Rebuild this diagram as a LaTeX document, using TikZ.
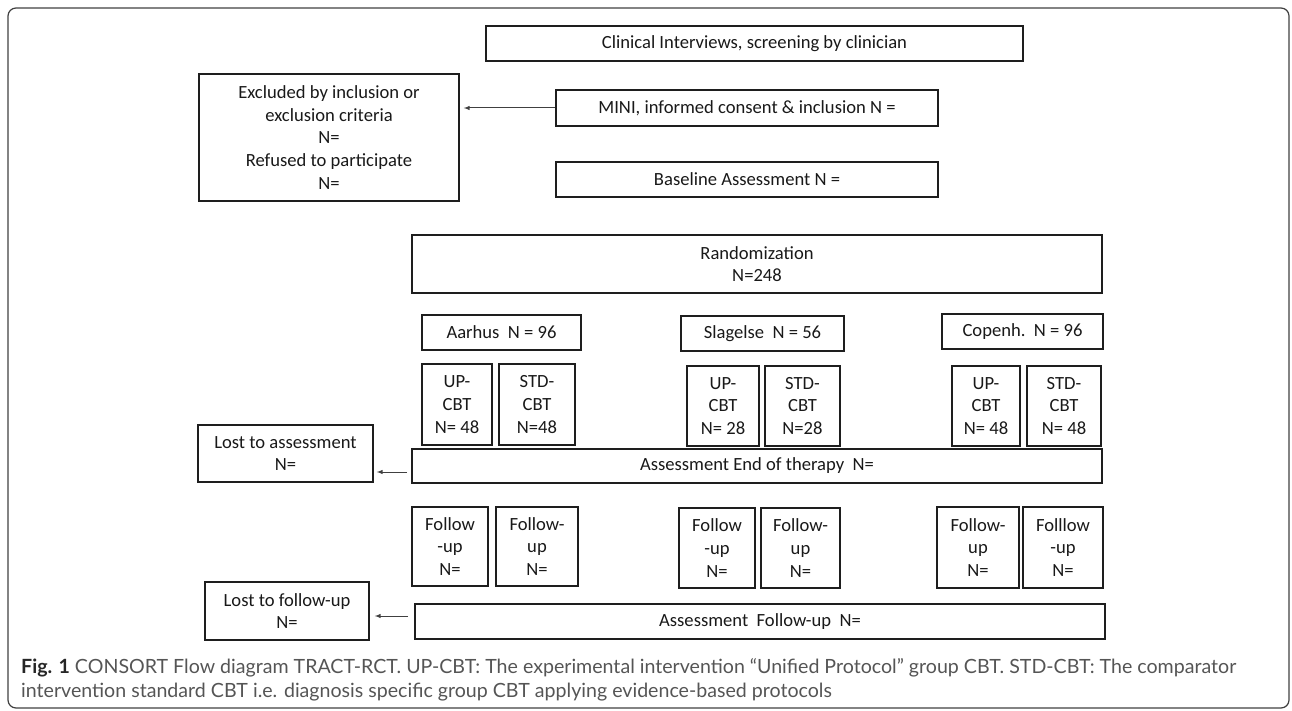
\documentclass[tikz,border=0pt]{standalone}
\usepackage{fontspec}
\setmainfont{Carlito}
\newfontfamily\capfont{Lato}
\usepackage{tikz}
\usetikzlibrary{arrows}

\definecolor{boxline}{HTML}{1E1E1E}
\definecolor{capgray}{HTML}{555555}

\begin{document}
\begin{tikzpicture}[x=1pt, y=-1pt,
    box/.style={draw=boxline, line width=1.7pt, rectangle, inner sep=0pt,
                align=center, text=black!90,
                font=\fontsize{18.6}{22.7}\selectfont},
    lost/.style={draw=black!75, line width=1pt, -latex}]
  \useasboundingbox (0,0) rectangle (1292,711);
  \draw[black!75, line width=1.2pt, rounded corners=8pt] (8,8) rectangle (1289,708);

  % screening, consent, baseline
  \node[box, minimum width=537pt, minimum height=35pt] (clin) at (754.5,43.5)
    {Clinical Interviews, screening by clinician};
  \node[box, minimum width=260pt, minimum height=127pt] (excl) at (329,137.5)
    {Excluded by inclusion or\\exclusion criteria\\N=\\Refused to participate\\N=};
  \node[box, minimum width=382pt, minimum height=36pt] (mini) at (747,108)
    {MINI, informed consent \& inclusion N =};
  \node[box, minimum width=382pt, minimum height=35pt] (base) at (747,179.5)
    {Baseline Assessment N =};
  \node[box, minimum width=690pt, minimum height=58pt] (rand) at (757,264)
    {Randomization\\N=248};

  % sites
  \node[box, minimum width=159pt, minimum height=35pt] (aarhus) at (501.5,332.5)
    {Aarhus\ \ N = 96};
  \node[box, minimum width=163pt, minimum height=35pt] (slagelse) at (762.5,333.5)
    {Slagelse\ \ N = 56};
  \node[box, minimum width=161pt, minimum height=35pt] (copenh) at (1022.5,331.5)
    {Copenh.\ \ N = 96};

  % arms
  \node[box, minimum width=70pt, minimum height=81pt] (aup) at (457,404.5)
    {UP-\\CBT\\N= 48};
  \node[box, minimum width=76pt, minimum height=81pt] (astd) at (537,404.5)
    {STD-\\CBT\\N=48};
  \node[box, minimum width=72pt, minimum height=80pt] (sup) at (723,406)
    {UP-\\CBT\\N= 28};
  \node[box, minimum width=75pt, minimum height=80pt] (sstd) at (802.5,406)
    {STD-\\CBT\\N=28};
  \node[box, minimum width=68pt, minimum height=80pt] (cup) at (986,406)
    {UP-\\CBT\\N= 48};
  \node[box, minimum width=74pt, minimum height=80pt] (cstd) at (1064,406)
    {STD-\\CBT\\N= 48};

  % end of therapy
  \node[box, minimum width=690pt, minimum height=34pt] (endt) at (757,466)
    {Assessment End of therapy\ \ N=};
  \node[box, minimum width=175pt, minimum height=57pt] (lostass) at (285.5,453.5)
    {Lost to assessment\\N=};

  % follow-up
  \node[box, minimum width=76pt, minimum height=79pt] (afuup) at (450,546.5)
    {Follow\\-up\\N=};
  \node[box, minimum width=82pt, minimum height=79pt] (afustd) at (537,546.5)
    {Follow-\\up\\N=};
  \node[box, minimum width=76pt, minimum height=80pt] (sfuup) at (717,548)
    {Follow\\-up\\N=};
  \node[box, minimum width=79pt, minimum height=80pt] (sfustd) at (800.5,548)
    {Follow-\\up\\N=};
  \node[box, minimum width=82pt, minimum height=81pt] (cfuup) at (978,547.5)
    {Follow-\\up\\N=};
  \node[box, minimum width=80pt, minimum height=81pt] (cfustd) at (1063,547.5)
    {Folllow\\-up\\N=};
  \node[box, minimum width=690pt, minimum height=35pt] (afu) at (760,621.5)
    {Assessment\ \ Follow-up\ \ N=};
  \node[box, minimum width=164pt, minimum height=58pt] (lostfu) at (287,611)
    {Lost to follow-up\\N=};

  % drop-outs
  \draw[lost, shorten >=4pt] (mini.west) -- (mini.west -| excl.east);
  \draw[lost, shorten <=4pt, shorten >=3pt] ([yshift=-6pt]endt.west) -- ([yshift=-6pt]endt.west -| lostass.east);
  \draw[lost, shorten <=6pt, shorten >=5pt] ([yshift=5.5pt]afu.west) -- ([yshift=5.5pt]afu.west -| lostfu.east);

  \node[anchor=west, align=left, inner sep=0pt, text=capgray,
        font=\capfont\fontsize{19.6}{24}\selectfont] (caption) at (21,680)
    {{\color{black!85}\bfseries Fig. 1} CONSORT Flow diagram TRACT-RCT. UP-CBT: The experimental intervention “Unified Protocol” group CBT. STD-CBT: The comparator\\
     intervention standard CBT i.e. diagnosis specific group CBT applying evidence-based protocols};
\end{tikzpicture}
\end{document}
